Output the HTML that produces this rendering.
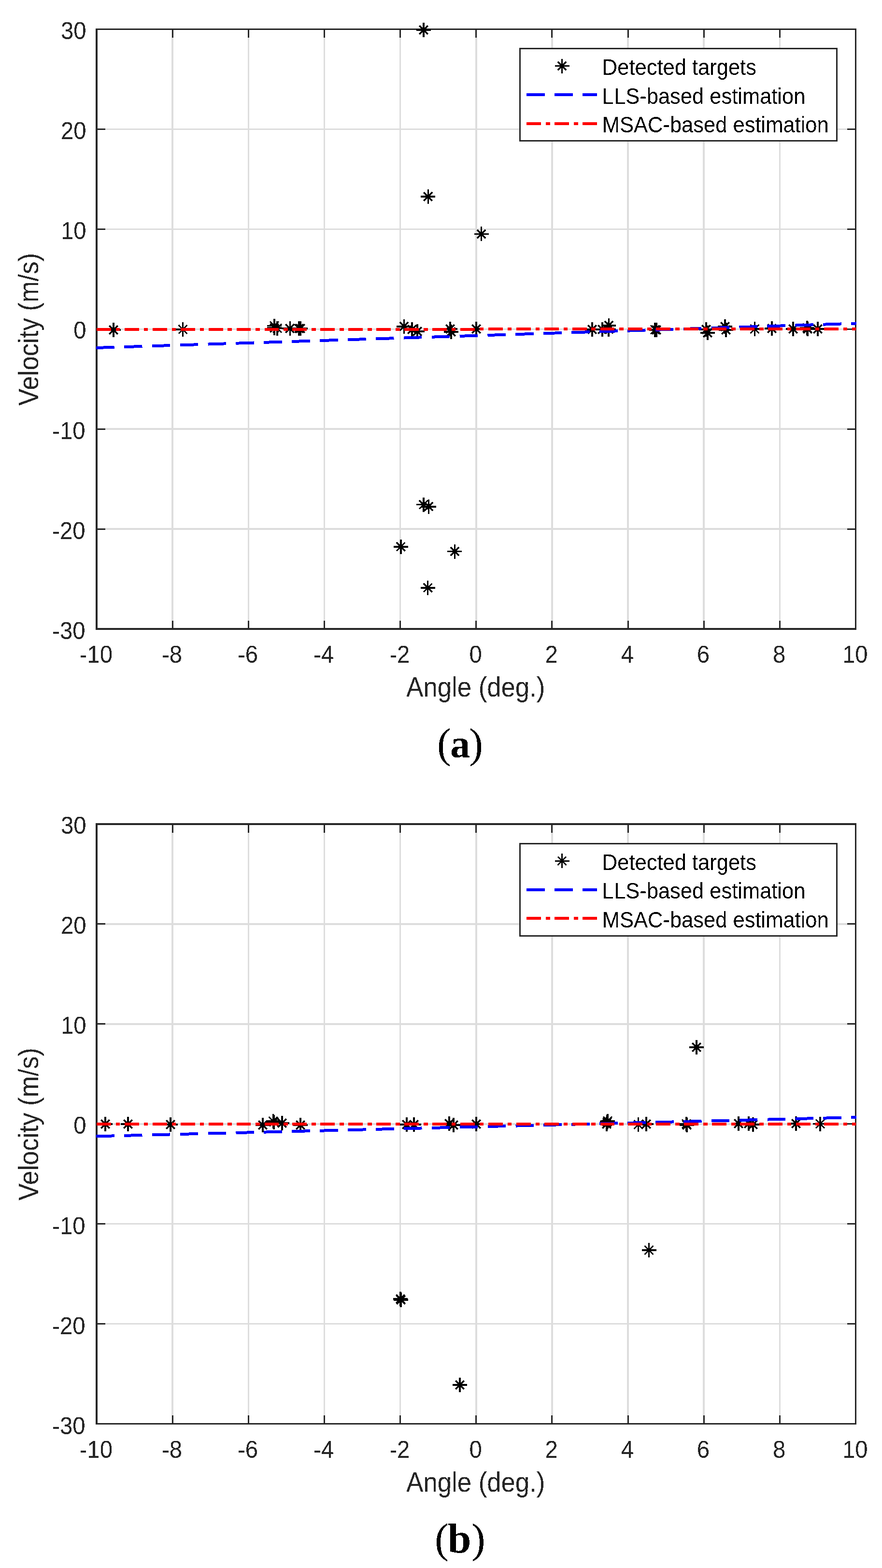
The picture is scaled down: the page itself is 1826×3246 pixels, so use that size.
<!DOCTYPE html><html><head><meta charset="utf-8"><title>Velocity vs Angle</title><style>html,body{margin:0;padding:0;background:#fff;}svg{display:block;}</style></head><body>
<svg width="1826" height="3246" viewBox="0 0 1826 3246" shape-rendering="crispEdges">
<defs><filter id="al" x="-0.05" y="-0.1" width="1.1" height="1.2" color-interpolation-filters="sRGB"><feComponentTransfer><feFuncA type="discrete" tableValues="0 1"/></feComponentTransfer></filter></defs>
<rect x="0" y="0" width="1826" height="3246" fill="#fff"/>
<path d="M357.15 60.5V1302M514.3 60.5V1302M671.45 60.5V1302M828.6 60.5V1302M985.75 60.5V1302M1142.9 60.5V1302M1300.05 60.5V1302M1457.2 60.5V1302M1614.35 60.5V1302M200 1095.08H1771.5M200 888.17H1771.5M200 681.25H1771.5M200 474.33H1771.5M200 267.42H1771.5" stroke="#dddddd" stroke-width="3.5" fill="none"/>
<path d="M200 1302V1284.5M200 60.5V78M357.15 1302V1284.5M357.15 60.5V78M514.3 1302V1284.5M514.3 60.5V78M671.45 1302V1284.5M671.45 60.5V78M828.6 1302V1284.5M828.6 60.5V78M985.75 1302V1284.5M985.75 60.5V78M1142.9 1302V1284.5M1142.9 60.5V78M1300.05 1302V1284.5M1300.05 60.5V78M1457.2 1302V1284.5M1457.2 60.5V78M1614.35 1302V1284.5M1614.35 60.5V78M1771.5 1302V1284.5M1771.5 60.5V78M200 1302H217.5M1771.5 1302H1754M200 1095.08H217.5M1771.5 1095.08H1754M200 888.17H217.5M1771.5 888.17H1754M200 681.25H217.5M1771.5 681.25H1754M200 474.33H217.5M1771.5 474.33H1754M200 267.42H217.5M1771.5 267.42H1754M200 60.5H217.5M1771.5 60.5H1754" stroke="#262626" stroke-width="3" fill="none"/>
<g fill="#262626"><rect x="198" y="59" width="4" height="1245"/><rect x="1770" y="59" width="3" height="1245"/><rect x="198" y="59" width="1575" height="3"/><rect x="198" y="1300" width="1575" height="4"/></g>
<path d="M220 683H250M235 668V698M226.2 674.2L243.8 691.8M226.2 691.8L243.8 674.2M363.6 682H393.6M378.6 667V697M369.8 673.2L387.4 690.8M369.8 690.8L387.4 673.2M553 674.5H583M568 659.5V689.5M559.2 665.7L576.8 683.3M559.2 683.3L576.8 665.7M553 679H583M568 664V694M559.2 670.2L576.8 687.8M559.2 687.8L576.8 670.2M559 679.5H589M574 664.5V694.5M565.2 670.7L582.8 688.3M565.2 688.3L582.8 670.7M585.4 680H615.4M600.4 665V695M591.6 671.2L609.2 688.8M591.6 688.8L609.2 671.2M603.8 680H633.8M618.8 665V695M610 671.2L627.6 688.8M610 688.8L627.6 671.2M607 680H637M622 665V695M613.2 671.2L630.8 688.8M613.2 688.8L630.8 671.2M821.4 675.8H851.4M836.4 660.8V690.8M827.6 667L845.2 684.6M827.6 684.6L845.2 667M838 682H868M853 667V697M844.2 673.2L861.8 690.8M844.2 690.8L861.8 673.2M849 686H879M864 671V701M855.2 677.2L872.8 694.8M855.2 694.8L872.8 677.2M917 681H947M932 666V696M923.2 672.2L940.8 689.8M923.2 689.8L940.8 672.2M919 687H949M934 672V702M925.2 678.2L942.8 695.8M925.2 695.8L942.8 678.2M971 681H1001M986 666V696M977.2 672.2L994.8 689.8M977.2 689.8L994.8 672.2M1211 682H1241M1226 667V697M1217.2 673.2L1234.8 690.8M1217.2 690.8L1234.8 673.2M1232 682H1262M1247 667V697M1238.2 673.2L1255.8 690.8M1238.2 690.8L1255.8 673.2M1245.4 673.8H1275.4M1260.4 658.8V688.8M1251.6 665L1269.2 682.6M1251.6 682.6L1269.2 665M1245 681.5H1275M1260 666.5V696.5M1251.2 672.7L1268.8 690.3M1251.2 690.3L1268.8 672.7M1341 682.5H1371M1356 667.5V697.5M1347.2 673.7L1364.8 691.3M1347.2 691.3L1364.8 673.7M1344 683H1374M1359 668V698M1350.2 674.2L1367.8 691.8M1350.2 691.8L1367.8 674.2M1447 682H1477M1462 667V697M1453.2 673.2L1470.8 690.8M1453.2 690.8L1470.8 673.2M1450 689H1480M1465 674V704M1456.2 680.2L1473.8 697.8M1456.2 697.8L1473.8 680.2M1486 676H1516M1501 661V691M1492.2 667.2L1509.8 684.8M1492.2 684.8L1509.8 667.2M1488 683H1518M1503 668V698M1494.2 674.2L1511.8 691.8M1494.2 691.8L1511.8 674.2M1547.5 681H1577.5M1562.5 666V696M1553.7 672.2L1571.3 689.8M1553.7 689.8L1571.3 672.2M1583 680H1613M1598 665V695M1589.2 671.2L1606.8 688.8M1589.2 688.8L1606.8 671.2M1627 681H1657M1642 666V696M1633.2 672.2L1650.8 689.8M1633.2 689.8L1650.8 672.2M1656 678.5H1686M1671 663.5V693.5M1662.2 669.7L1679.8 687.3M1662.2 687.3L1679.8 669.7M1657 681H1687M1672 666V696M1663.2 672.2L1680.8 689.8M1663.2 689.8L1680.8 672.2M1678 681H1708M1693 666V696M1684.2 672.2L1701.8 689.8M1684.2 689.8L1701.8 672.2M862 62H892M877 47V77M868.2 53.2L885.8 70.8M868.2 70.8L885.8 53.2M871.4 407H901.4M886.4 392V422M877.6 398.2L895.2 415.8M877.6 415.8L895.2 398.2M981.6 484.3H1011.6M996.6 469.3V499.3M987.8 475.5L1005.4 493.1M987.8 493.1L1005.4 475.5M862 1044.6H892M877 1029.6V1059.6M868.2 1035.8L885.8 1053.4M868.2 1053.4L885.8 1035.8M872.6 1048.8H902.6M887.6 1033.8V1063.8M878.8 1040L896.4 1057.6M878.8 1057.6L896.4 1040M814.8 1131.8H844.8M829.8 1116.8V1146.8M821 1123L838.6 1140.6M821 1140.6L838.6 1123M926.2 1141.5H956.2M941.2 1126.5V1156.5M932.4 1132.7L950 1150.3M932.4 1150.3L950 1132.7M870.7 1216.9H900.7M885.7 1201.9V1231.9M876.9 1208.1L894.5 1225.7M876.9 1225.7L894.5 1208.1" stroke="#000" stroke-width="3.4" fill="none"/>
<path d="M199 720L1773 669.45" stroke="#0000ff" stroke-width="6" stroke-dasharray="37.6 20.32" fill="none"/>
<path d="M200 682L1772.5 681" stroke="#ff0000" stroke-width="6" stroke-dasharray="29.9 9.9 8.6 9.52" fill="none"/>
<g filter="url(#al)" font-family="'Liberation Sans', Arial, Helvetica, sans-serif" font-size="47.3" fill="#262626"><text transform="translate(198.8 1372.3) scale(1 1.055)" text-anchor="middle">-10</text><text transform="translate(355.95 1372.3) scale(1 1.055)" text-anchor="middle">-8</text><text transform="translate(513.1 1372.3) scale(1 1.055)" text-anchor="middle">-6</text><text transform="translate(670.25 1372.3) scale(1 1.055)" text-anchor="middle">-4</text><text transform="translate(827.4 1372.3) scale(1 1.055)" text-anchor="middle">-2</text><text transform="translate(984.55 1372.3) scale(1 1.055)" text-anchor="middle">0</text><text transform="translate(1141.7 1372.3) scale(1 1.055)" text-anchor="middle">2</text><text transform="translate(1298.85 1372.3) scale(1 1.055)" text-anchor="middle">4</text><text transform="translate(1456 1372.3) scale(1 1.055)" text-anchor="middle">6</text><text transform="translate(1613.15 1372.3) scale(1 1.055)" text-anchor="middle">8</text><text transform="translate(1770.3 1372.3) scale(1 1.055)" text-anchor="middle">10</text><text transform="translate(176.5 1323) scale(1 1.055)" text-anchor="end">-30</text><text transform="translate(176.5 1116.08) scale(1 1.055)" text-anchor="end">-20</text><text transform="translate(176.5 909.17) scale(1 1.055)" text-anchor="end">-10</text><text transform="translate(178.5 701.45) scale(1 1.055)" text-anchor="end">0</text><text transform="translate(178.5 494.53) scale(1 1.055)" text-anchor="end">10</text><text transform="translate(178.5 287.62) scale(1 1.055)" text-anchor="end">20</text><text transform="translate(178.5 80.7) scale(1 1.055)" text-anchor="end">30</text></g>
<text filter="url(#al)" transform="translate(984.75 1442) scale(1 1.09)" text-anchor="middle" font-family="'Liberation Sans', Arial, Helvetica, sans-serif" font-size="52.7" fill="#262626">Angle (deg.)</text>
<text filter="url(#al)" transform="translate(79 681.75) rotate(-90) scale(1 1.09)" text-anchor="middle" font-family="'Liberation Sans', Arial, Helvetica, sans-serif" font-size="52.7" fill="#262626">Velocity (m/s)</text>
<rect x="1076.5" y="100.5" width="655.5" height="191.4" fill="#fff" stroke="#262626" stroke-width="3"/>
<path d="M1148.5 136.7H1178.5M1163.5 121.7V151.7M1154.7 127.9L1172.3 145.5M1154.7 145.5L1172.3 127.9" stroke="#000" stroke-width="3.2" fill="none"/>
<path d="M1090 196H1236" stroke="#0000ff" stroke-width="6" stroke-dasharray="38 20" fill="none"/>
<path d="M1090 255.6H1236" stroke="#ff0000" stroke-width="6" stroke-dasharray="30 10 8.7 9.3" fill="none"/>
<g filter="url(#al)" font-family="'Liberation Sans', Arial, Helvetica, sans-serif" font-size="43.5" fill="#000"><text transform="translate(1246.8 155.3) scale(1 1.06)">Detected targets</text><text transform="translate(1246.8 214.8) scale(1 1.06)">LLS-based estimation</text><text transform="translate(1246.8 274.3) scale(1 1.06)">MSAC-based estimation</text></g>
<g filter="url(#al)" font-family="'Liberation Serif', 'Times New Roman', serif" font-size="86" fill="#000"><text x="905.12" y="1567.8">(</text><text x="932.27" y="1567.8" font-weight="bold" font-size="81.5">a</text><text x="971.14" y="1567.8">)</text></g>
<path d="M357.15 1706V2947.5M514.3 1706V2947.5M671.45 1706V2947.5M828.6 1706V2947.5M985.75 1706V2947.5M1142.9 1706V2947.5M1300.05 1706V2947.5M1457.2 1706V2947.5M1614.35 1706V2947.5M200 2740.58H1771.5M200 2533.67H1771.5M200 2326.75H1771.5M200 2119.83H1771.5M200 1912.92H1771.5" stroke="#dddddd" stroke-width="3.5" fill="none"/>
<path d="M200 2947.5V2930M200 1706V1723.5M357.15 2947.5V2930M357.15 1706V1723.5M514.3 2947.5V2930M514.3 1706V1723.5M671.45 2947.5V2930M671.45 1706V1723.5M828.6 2947.5V2930M828.6 1706V1723.5M985.75 2947.5V2930M985.75 1706V1723.5M1142.9 2947.5V2930M1142.9 1706V1723.5M1300.05 2947.5V2930M1300.05 1706V1723.5M1457.2 2947.5V2930M1457.2 1706V1723.5M1614.35 2947.5V2930M1614.35 1706V1723.5M1771.5 2947.5V2930M1771.5 1706V1723.5M200 2947.5H217.5M1771.5 2947.5H1754M200 2740.58H217.5M1771.5 2740.58H1754M200 2533.67H217.5M1771.5 2533.67H1754M200 2326.75H217.5M1771.5 2326.75H1754M200 2119.83H217.5M1771.5 2119.83H1754M200 1912.92H217.5M1771.5 1912.92H1754M200 1706H217.5M1771.5 1706H1754" stroke="#262626" stroke-width="3" fill="none"/>
<g fill="#262626"><rect x="198" y="1704" width="4" height="1245"/><rect x="1770" y="1704" width="3" height="1245"/><rect x="198" y="1704" width="1575" height="4"/><rect x="198" y="2946" width="1575" height="3"/></g>
<path d="M203 2327H233M218 2312V2342M209.2 2318.2L226.8 2335.8M209.2 2335.8L226.8 2318.2M250 2327H280M265 2312V2342M256.2 2318.2L273.8 2335.8M256.2 2335.8L273.8 2318.2M338 2328H368M353 2313V2343M344.2 2319.2L361.8 2336.8M344.2 2336.8L361.8 2319.2M529 2329H559M544 2314V2344M535.2 2320.2L552.8 2337.8M535.2 2337.8L552.8 2320.2M550.5 2321H580.5M565.5 2306V2336M556.7 2312.2L574.3 2329.8M556.7 2329.8L574.3 2312.2M552 2322.5H582M567 2307.5V2337.5M558.2 2313.7L575.8 2331.3M558.2 2331.3L575.8 2313.7M569 2325H599M584 2310V2340M575.2 2316.2L592.8 2333.8M575.2 2333.8L592.8 2316.2M607 2329H637M622 2314V2344M613.2 2320.2L630.8 2337.8M613.2 2337.8L630.8 2320.2M827 2328H857M842 2313V2343M833.2 2319.2L850.8 2336.8M833.2 2336.8L850.8 2319.2M842 2328H872M857 2313V2343M848.2 2319.2L865.8 2336.8M848.2 2336.8L865.8 2319.2M915 2326H945M930 2311V2341M921.2 2317.2L938.8 2334.8M921.2 2334.8L938.8 2317.2M924 2329H954M939 2314V2344M930.2 2320.2L947.8 2337.8M930.2 2337.8L947.8 2320.2M971 2327H1001M986 2312V2342M977.2 2318.2L994.8 2335.8M977.2 2335.8L994.8 2318.2M1243 2320.5H1273M1258 2305.5V2335.5M1249.2 2311.7L1266.8 2329.3M1249.2 2329.3L1266.8 2311.7M1242 2323H1272M1257 2308V2338M1248.2 2314.2L1265.8 2331.8M1248.2 2331.8L1265.8 2314.2M1241 2327H1271M1256 2312V2342M1247.2 2318.2L1264.8 2335.8M1247.2 2335.8L1264.8 2318.2M1306.5 2328H1336.5M1321.5 2313V2343M1312.7 2319.2L1330.3 2336.8M1312.7 2336.8L1330.3 2319.2M1323 2327H1353M1338 2312V2342M1329.2 2318.2L1346.8 2335.8M1329.2 2335.8L1346.8 2318.2M1406 2326.5H1436M1421 2311.5V2341.5M1412.2 2317.7L1429.8 2335.3M1412.2 2335.3L1429.8 2317.7M1407 2329H1437M1422 2314V2344M1413.2 2320.2L1430.8 2337.8M1413.2 2337.8L1430.8 2320.2M1514 2326H1544M1529 2311V2341M1520.2 2317.2L1537.8 2334.8M1520.2 2334.8L1537.8 2317.2M1535 2326H1565M1550 2311V2341M1541.2 2317.2L1558.8 2334.8M1541.2 2334.8L1558.8 2317.2M1544 2328H1574M1559 2313V2343M1550.2 2319.2L1567.8 2336.8M1550.2 2336.8L1567.8 2319.2M1633 2326H1663M1648 2311V2341M1639.2 2317.2L1656.8 2334.8M1639.2 2334.8L1656.8 2317.2M1683 2326.5H1713M1698 2311.5V2341.5M1689.2 2317.7L1706.8 2335.3M1689.2 2335.3L1706.8 2317.7M1427 2168H1457M1442 2153V2183M1433.2 2159.2L1450.8 2176.8M1433.2 2176.8L1450.8 2159.2M1328.5 2588H1358.5M1343.5 2573V2603M1334.7 2579.2L1352.3 2596.8M1334.7 2596.8L1352.3 2579.2M814 2689H844M829 2674V2704M820.2 2680.2L837.8 2697.8M820.2 2697.8L837.8 2680.2M815 2691H845M830 2676V2706M821.2 2682.2L838.8 2699.8M821.2 2699.8L838.8 2682.2M937 2867H967M952 2852V2882M943.2 2858.2L960.8 2875.8M943.2 2875.8L960.8 2858.2" stroke="#000" stroke-width="3.4" fill="none"/>
<path d="M199 2352.3L1773 2312.96" stroke="#0000ff" stroke-width="6" stroke-dasharray="37.6 20.32" fill="none"/>
<path d="M200 2327L1772.5 2326.5" stroke="#ff0000" stroke-width="6" stroke-dasharray="29.9 9.9 8.6 9.52" fill="none"/>
<g filter="url(#al)" font-family="'Liberation Sans', Arial, Helvetica, sans-serif" font-size="47.3" fill="#262626"><text transform="translate(198.8 3017.8) scale(1 1.055)" text-anchor="middle">-10</text><text transform="translate(355.95 3017.8) scale(1 1.055)" text-anchor="middle">-8</text><text transform="translate(513.1 3017.8) scale(1 1.055)" text-anchor="middle">-6</text><text transform="translate(670.25 3017.8) scale(1 1.055)" text-anchor="middle">-4</text><text transform="translate(827.4 3017.8) scale(1 1.055)" text-anchor="middle">-2</text><text transform="translate(984.55 3017.8) scale(1 1.055)" text-anchor="middle">0</text><text transform="translate(1141.7 3017.8) scale(1 1.055)" text-anchor="middle">2</text><text transform="translate(1298.85 3017.8) scale(1 1.055)" text-anchor="middle">4</text><text transform="translate(1456 3017.8) scale(1 1.055)" text-anchor="middle">6</text><text transform="translate(1613.15 3017.8) scale(1 1.055)" text-anchor="middle">8</text><text transform="translate(1770.3 3017.8) scale(1 1.055)" text-anchor="middle">10</text><text transform="translate(176.5 2968.5) scale(1 1.055)" text-anchor="end">-30</text><text transform="translate(176.5 2761.58) scale(1 1.055)" text-anchor="end">-20</text><text transform="translate(176.5 2554.67) scale(1 1.055)" text-anchor="end">-10</text><text transform="translate(178.5 2346.95) scale(1 1.055)" text-anchor="end">0</text><text transform="translate(178.5 2140.03) scale(1 1.055)" text-anchor="end">10</text><text transform="translate(178.5 1933.12) scale(1 1.055)" text-anchor="end">20</text><text transform="translate(178.5 1726.2) scale(1 1.055)" text-anchor="end">30</text></g>
<text filter="url(#al)" transform="translate(984.75 3087.5) scale(1 1.09)" text-anchor="middle" font-family="'Liberation Sans', Arial, Helvetica, sans-serif" font-size="52.7" fill="#262626">Angle (deg.)</text>
<text filter="url(#al)" transform="translate(79 2327.25) rotate(-90) scale(1 1.09)" text-anchor="middle" font-family="'Liberation Sans', Arial, Helvetica, sans-serif" font-size="52.7" fill="#262626">Velocity (m/s)</text>
<rect x="1076.5" y="1746" width="655.5" height="191.4" fill="#fff" stroke="#262626" stroke-width="3"/>
<path d="M1148.5 1782.2H1178.5M1163.5 1767.2V1797.2M1154.7 1773.4L1172.3 1791M1154.7 1791L1172.3 1773.4" stroke="#000" stroke-width="3.2" fill="none"/>
<path d="M1090 1841.5H1236" stroke="#0000ff" stroke-width="6" stroke-dasharray="38 20" fill="none"/>
<path d="M1090 1901.1H1236" stroke="#ff0000" stroke-width="6" stroke-dasharray="30 10 8.7 9.3" fill="none"/>
<g filter="url(#al)" font-family="'Liberation Sans', Arial, Helvetica, sans-serif" font-size="43.5" fill="#000"><text transform="translate(1246.8 1800.8) scale(1 1.06)">Detected targets</text><text transform="translate(1246.8 1860.3) scale(1 1.06)">LLS-based estimation</text><text transform="translate(1246.8 1919.8) scale(1 1.06)">MSAC-based estimation</text></g>
<g filter="url(#al)" font-family="'Liberation Serif', 'Times New Roman', serif" font-size="86" fill="#000"><text x="900.32" y="3213.8">(</text><text x="926.9" y="3213.8" font-weight="bold" font-size="87">b</text><text x="976.04" y="3213.8">)</text></g>
</svg></body></html>
